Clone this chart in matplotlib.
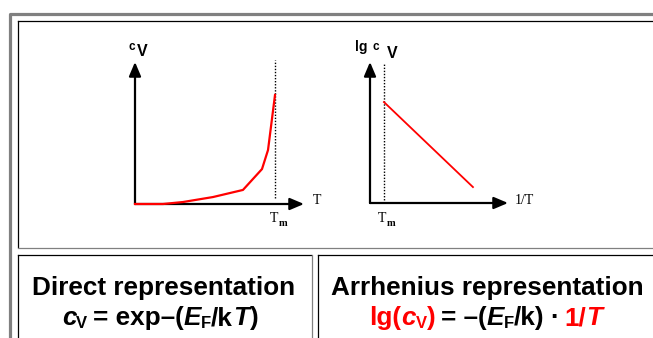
import matplotlib
matplotlib.use("Agg")
from matplotlib import pyplot as plt

# direct representation: c_V vs T (T in units of Tm, c_V in arbitrary units)
T_vals = [0.0, 0.20, 0.343, 0.557, 0.771, 0.907, 0.95, 1.0]
cv_vals = [0.0, 0.0, 0.014, 0.049, 0.099, 0.246, 0.38, 0.768]
T_m = 1.0
T_max = 1.207

# arrhenius representation: lg c_V vs 1/T (axis fraction units)
invT_vals = [0.101, 0.746]
lgcv_vals = [0.716, 0.113]
invT_m = 0.101

W, H = 653, 338
fig = plt.figure(figsize=(W / 100, H / 100), dpi=100)
fig.patch.set_facecolor("white")

# full figure overlay in pixel units for frames and text
bg = fig.add_axes([0, 0, 1, 1])
bg.set_xlim(0, W)
bg.set_ylim(H, 0)
bg.axis("off")

gray = "#808080"
# outer gray border
bg.plot([9.5, 9.5, W], [H, 13.5, 13.5], color=gray, lw=2.3, solid_capstyle="butt")
# top panel cell
bg.plot([17.5, 17.5], [20.5, 247], color="black", lw=0.9)
bg.plot([17.5, W], [20.5, 20.5], color="black", lw=0.9)
bg.plot([17.5, W], [247.5, 247.5], color=gray, lw=0.9)
# bottom cells
bg.plot([17.5, 17.5], [254.5, H], color="black", lw=0.9)
bg.plot([17.5, 311], [254.5, 254.5], color="black", lw=0.9)
bg.plot([311.5, 311.5], [254.5, H], color=gray, lw=0.9)
bg.plot([317.5, 317.5], [254.5, H], color="black", lw=0.9)
bg.plot([317.5, W], [254.5, 254.5], color="black", lw=0.9)


def make_axes(x0, x1, y_top, y_bot):
    ax = fig.add_axes([x0 / W, (H - y_bot) / H, (x1 - x0) / W, (y_bot - y_top) / H])
    ax.axis("off")
    arrow = dict(arrowstyle="-|>,head_length=0.85,head_width=0.36", lw=1.6,
                 color="black", shrinkA=0, shrinkB=0, mutation_scale=10)
    ax.annotate("", xy=(1, 0), xytext=(0, 0), xycoords="axes fraction",
                arrowprops=arrow, annotation_clip=False)
    ax.annotate("", xy=(0, 1), xytext=(0, 0), xycoords="axes fraction",
                arrowprops=arrow, annotation_clip=False)
    return ax


ax1 = make_axes(135, 304, 62, 204)
ax1.set_xlim(0, T_max)
ax1.set_ylim(0, 1)
ax1.plot([T_m, T_m], [0.04, 1.014], color="black", lw=1, ls=(0, (1, 1.2)), clip_on=False)
ax1.plot(T_vals, cv_vals, color="#ff0000", lw=1.6, clip_on=False, zorder=5)

ax2 = make_axes(370, 508, 62, 203)
ax2.set_xlim(0, 1)
ax2.set_ylim(0, 1)
ax2.plot([invT_m, invT_m], [0.0, 0.993], color="black", lw=1, ls=(0, (1, 1.2)), clip_on=False)
ax2.plot(invT_vals, lgcv_vals, color="#ff0000", lw=1.3, clip_on=False, zorder=5)

sans = "Liberation Sans"
serif = "Liberation Serif"

# axis labels
bg.text(132, 46.5, "c", fontsize=8.5, fontweight="bold", family=sans, ha="center", va="center")
bg.text(142.5, 52, "V", fontsize=11.5, fontweight="bold", family=sans, ha="center", va="center")
bg.text(361.5, 47.5, "lg", fontsize=10, fontweight="bold", family=sans, ha="center", va="center")
bg.text(376, 46.5, "c", fontsize=8.5, fontweight="bold", family=sans, ha="center", va="center")
bg.text(392, 54, "V", fontsize=11.5, fontweight="bold", family=sans, ha="center", va="center")

bg.text(317, 200.5, "T", fontsize=10, family=serif, ha="center", va="center")
bg.text(524, 200.5, "1/T", fontsize=10, family=serif, ha="center", va="center")
for xc in (273.5, 381.5):
    bg.text(xc, 222, "T", fontsize=10, family=serif, ha="center", va="baseline")
    bg.text(xc + 5, 226, "m", fontsize=7.5, fontweight="bold", family=serif, ha="left", va="baseline")

fig.canvas.draw()
renderer = fig.canvas.get_renderer()

fs = 18.8
fs_sub = 12
space = 5.5


def runs_centered(xc, y, runs):
    texts = []
    for s, italic, sub, color, gap in runs:
        t = bg.text(0, y + (2.5 if sub else 0), s, fontsize=fs_sub if sub else fs,
                    fontweight="bold", fontstyle="italic" if italic else "normal",
                    color=color, family=sans, ha="left", va="baseline")
        texts.append((t, gap))
    widths = [t.get_window_extent(renderer).width for t, _ in texts]
    total = sum(widths) + sum(g for _, g in texts)
    x = xc - total / 2
    for (t, gap), w in zip(texts, widths):
        x += gap
        t.set_x(x)
        x += w


red = "#ff0000"
blk = "black"
bg.text(163.5, 295, "Direct representation", fontsize=fs, fontweight="bold",
        family=sans, ha="center", va="baseline")
bg.text(487.5, 295, "Arrhenius representation", fontsize=fs, fontweight="bold",
        family=sans, ha="center", va="baseline")

runs_centered(160, 325, [
    ("c", True, False, blk, 0),
    ("V", False, True, blk, 0),
    ("= exp–(", False, False, blk, space),
    ("E", True, False, blk, 0),
    ("F", False, True, blk, 0),
    ("/k", False, False, blk, 0),
    ("T", True, False, blk, 0.5),
    (")", False, False, blk, 0),
])
runs_centered(485.5, 325, [
    ("lg(", False, False, red, 0),
    ("c", True, False, red, 0),
    ("V", False, True, red, 0),
    (")", False, False, red, 0),
    ("= –(", False, False, blk, space),
    ("E", True, False, blk, 0),
    ("F", False, True, blk, 0),
    ("/k)", False, False, blk, 0),
    ("·", False, False, blk, space),
    ("1/", False, False, red, space),
    ("T", True, False, red, 0),
])

fig.savefig("out.png", dpi=100, facecolor="white")
